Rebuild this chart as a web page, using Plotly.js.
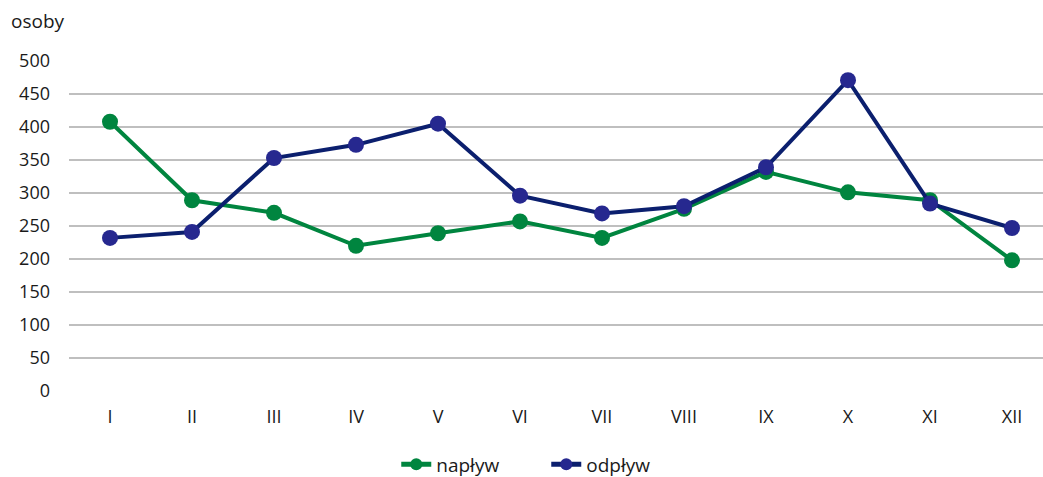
<!DOCTYPE html>
<html><head><meta charset="utf-8">
<script src="https://cdn.plot.ly/plotly-3.0.1.min.js"></script>
<style>html,body{margin:0;padding:0;background:#fff}#c{width:1043px;height:477px}</style>
</head><body><div id="c"></div>
<script>
const months = ["I","II","III","IV","V","VI","VII","VIII","IX","X","XI","XII"];
const naplyw = [408, 289, 270, 220, 239, 257, 232, 276, 332, 301, 289, 198];
const odplyw = [232, 241, 353, 373, 405, 296, 269, 280, 339, 471, 284, 247];
const yTicks = [0,50,100,150,200,250,300,350,400,450,500];
const font = "Open Sans, sans-serif";
const idx = months.map((m,i)=>i);
const traces = [
  {x: idx, y: naplyw, name: "napływ", mode: "lines+markers", cliponaxis:false,
   line: {color: "#00853F", width: 4}, marker: {color: "#00853F", size: 16}},
  {x: idx, y: odplyw, name: "odpływ", mode: "lines+markers", cliponaxis:false,
   line: {color: "#0B1F6E", width: 4}, marker: {color: "#26288F", size: 16}}
];
const layout = {
  width: 1043, height: 477,
  margin: {l: 69, r: 0, t: 61, b: 86, autoexpand: false},
  paper_bgcolor: "#fff", plot_bgcolor: "#fff",
  font: {family: font, size: 18, color: "#1a1a1a"},
  showlegend: true,
  legend: {orientation: "h", x: 0.49, xanchor: "center", y: -0.165, yanchor: "top",
           font: {family: font, size: 19, color: "#1a1a1a"}, itemsizing: "constant",
           entrywidth: 105, tracegroupgap: 0},
  xaxis: {range: [-0.5, 11.378], tickmode: "array", tickvals: idx, ticktext: months,
          showgrid: false, zeroline: false, showline: false, ticks: "", ticklabelstandoff: 13,
          fixedrange: true},
  yaxis: {range: [0, 500], tickmode: "array", tickvals: yTicks, ticktext: yTicks.map(String),
          showgrid: true, gridcolor: "#BFBFBF", gridwidth: 2, zeroline: false, showline: false,
          ticks: "", ticklabelstandoff: 18, fixedrange: true},
  annotations: [{text: "osoby", xref: "paper", yref: "paper", x: -0.062, y: 1.12,
                 xanchor: "left", yanchor: "middle", showarrow: false,
                 font: {family: font, size: 19, color: "#1a1a1a"}}]
};
Plotly.newPlot("c", traces, layout, {displayModeBar: false, staticPlot: true});
</script></body></html>
